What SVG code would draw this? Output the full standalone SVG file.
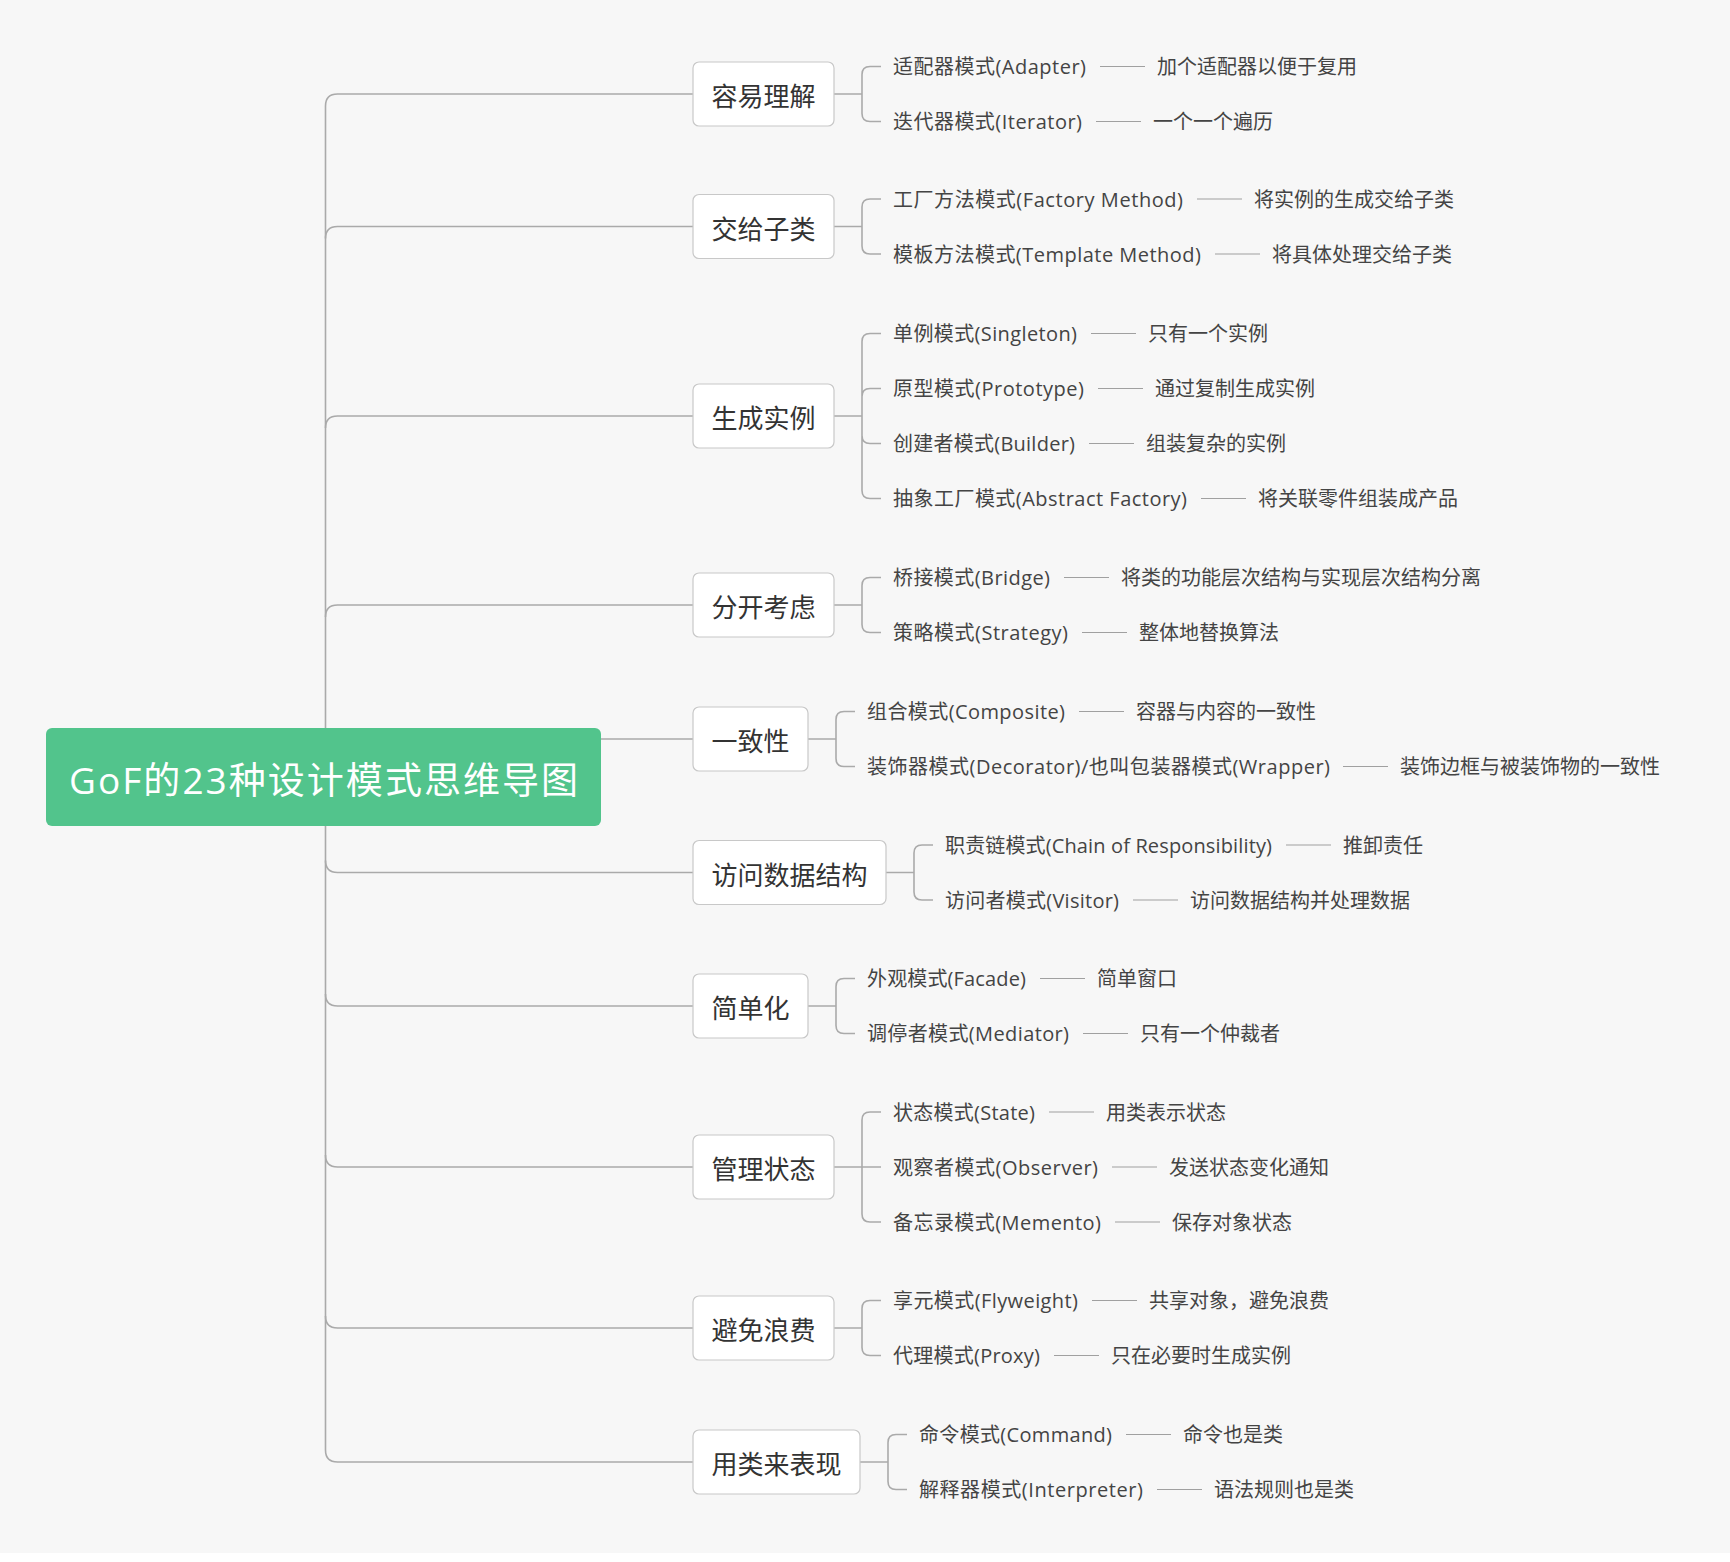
<svg xmlns="http://www.w3.org/2000/svg" width="1730" height="1562" viewBox="0 0 1730 1562">
<style>
.conn{fill:none;stroke:#aaaaaa;stroke-width:1.6}
.dash{fill:none;stroke:#a0a0a0;stroke-width:1.2}
.box{fill:#ffffff;stroke:#c8c8c8;stroke-width:1.2}
.lbl{font-family:"Open Sans","Noto Sans CJK SC",sans-serif;font-size:26px;fill:#333333;text-anchor:middle}
.leaf{font-family:"Open Sans","Noto Sans CJK SC",sans-serif;font-size:20px;fill:#444444}
.root{fill:#52c48c}
.rootlbl{font-family:"Open Sans","Noto Sans CJK SC",sans-serif;font-size:37px;fill:#ffffff;text-anchor:middle}
</style>
<rect x="0" y="0" width="1730" height="1562" fill="#ffffff"/>
<rect x="0" y="0" width="1730" height="1553" fill="#f7f7f7"/>
<g id="connectors">
<path class="conn" d="M693 94 H337.5 Q325.5 94 325.5 106 V1450 Q325.5 1462 337.5 1462 H693"/>
<path class="conn" d="M325.5 238.5 Q325.5 226.5 337.5 226.5 H693"/>
<path class="conn" d="M325.5 428 Q325.5 416 337.5 416 H693"/>
<path class="conn" d="M325.5 617 Q325.5 605 337.5 605 H693"/>
<path class="conn" d="M601 739 H693"/>
<path class="conn" d="M325.5 860.5 Q325.5 872.5 337.5 872.5 H693"/>
<path class="conn" d="M325.5 994 Q325.5 1006 337.5 1006 H693"/>
<path class="conn" d="M325.5 1155 Q325.5 1167 337.5 1167 H693"/>
<path class="conn" d="M325.5 1316 Q325.5 1328 337.5 1328 H693"/>
<path class="conn" d="M834 94 H862 M881 66.5 H870 Q862 66.5 862 74.5 V113.5 Q862 121.5 870 121.5 H881"/>
<path class="conn" d="M834 226.5 H862 M881 199 H870 Q862 199 862 207 V246 Q862 254 870 254 H881"/>
<path class="conn" d="M834 416 H862 M881 333.5 H870 Q862 333.5 862 341.5 V490.5 Q862 498.5 870 498.5 H881 M862 396.5 Q862 388.5 870 388.5 H881 M862 435.5 Q862 443.5 870 443.5 H881"/>
<path class="conn" d="M834 605 H862 M881 577.5 H870 Q862 577.5 862 585.5 V624.5 Q862 632.5 870 632.5 H881"/>
<path class="conn" d="M808 739 H836 M855 711.5 H844 Q836 711.5 836 719.5 V758.5 Q836 766.5 844 766.5 H855"/>
<path class="conn" d="M886 872.5 H914 M933 845 H922 Q914 845 914 853 V892 Q914 900 922 900 H933"/>
<path class="conn" d="M808 1006 H836 M855 978.5 H844 Q836 978.5 836 986.5 V1025.5 Q836 1033.5 844 1033.5 H855"/>
<path class="conn" d="M834 1167 H881 M881 1112 H870 Q862 1112 862 1120 V1214 Q862 1222 870 1222 H881"/>
<path class="conn" d="M834 1328 H862 M881 1300.5 H870 Q862 1300.5 862 1308.5 V1347.5 Q862 1355.5 870 1355.5 H881"/>
<path class="conn" d="M860 1462 H888 M907 1434.5 H896 Q888 1434.5 888 1442.5 V1481.5 Q888 1489.5 896 1489.5 H907"/>
<path class="dash" d="M1100 66.5 H1145 M1096 121.5 H1141 M1197 199 H1242 M1215 254 H1260 M1091 333.5 H1136 M1098 388.5 H1143 M1089 443.5 H1134 M1201 498.5 H1246 M1064 577.5 H1109 M1082 632.5 H1127 M1079 711.5 H1124 M1343 766.5 H1388 M1286 845 H1331 M1133 900 H1178 M1040 978.5 H1085 M1083 1033.5 H1128 M1049 1112 H1094 M1112 1167 H1157 M1115 1222 H1160 M1092 1300.5 H1137 M1054 1355.5 H1099 M1126 1434.5 H1171 M1157 1489.5 H1202"/>
</g>
<g id="root">
<rect class="root" x="46" y="728" width="555" height="98" rx="6"/>
<text class="rootlbl" x="323.5" y="794" textLength="509">GoF的23种设计模式思维导图</text>
</g>
<g id="b1">
<rect class="box" x="693" y="62" width="141" height="64" rx="6"/>
<text class="lbl" x="763.5" y="106">容易理解</text>
<text class="leaf" x="893" y="74" textLength="193">适配器模式(Adapter)</text>
<text class="leaf" x="1157" y="74">加个适配器以便于复用</text>
<text class="leaf" x="893" y="129" textLength="189">迭代器模式(Iterator)</text>
<text class="leaf" x="1153" y="129">一个一个遍历</text>
</g>
<g id="b2">
<rect class="box" x="693" y="194.5" width="141" height="64" rx="6"/>
<text class="lbl" x="763.5" y="238.5">交给子类</text>
<text class="leaf" x="893" y="206.5" textLength="290">工厂方法模式(Factory Method)</text>
<text class="leaf" x="1254" y="206.5">将实例的生成交给子类</text>
<text class="leaf" x="893" y="261.5" textLength="308">模板方法模式(Template Method)</text>
<text class="leaf" x="1272" y="261.5">将具体处理交给子类</text>
</g>
<g id="b3">
<rect class="box" x="693" y="384" width="141" height="64" rx="6"/>
<text class="lbl" x="763.5" y="428">生成实例</text>
<text class="leaf" x="893" y="341" textLength="184">单例模式(Singleton)</text>
<text class="leaf" x="1148" y="341">只有一个实例</text>
<text class="leaf" x="893" y="396" textLength="191">原型模式(Prototype)</text>
<text class="leaf" x="1155" y="396">通过复制生成实例</text>
<text class="leaf" x="893" y="451" textLength="182">创建者模式(Builder)</text>
<text class="leaf" x="1146" y="451">组装复杂的实例</text>
<text class="leaf" x="893" y="506" textLength="294">抽象工厂模式(Abstract Factory)</text>
<text class="leaf" x="1258" y="506">将关联零件组装成产品</text>
</g>
<g id="b4">
<rect class="box" x="693" y="573" width="141" height="64" rx="6"/>
<text class="lbl" x="763.5" y="617">分开考虑</text>
<text class="leaf" x="893" y="585" textLength="157">桥接模式(Bridge)</text>
<text class="leaf" x="1121" y="585">将类的功能层次结构与实现层次结构分离</text>
<text class="leaf" x="893" y="640" textLength="175">策略模式(Strategy)</text>
<text class="leaf" x="1139" y="640">整体地替换算法</text>
</g>
<g id="b5">
<rect class="box" x="693" y="707" width="115" height="64" rx="6"/>
<text class="lbl" x="750.5" y="751">一致性</text>
<text class="leaf" x="867" y="719" textLength="198">组合模式(Composite)</text>
<text class="leaf" x="1136" y="719">容器与内容的一致性</text>
<text class="leaf" x="867" y="774" textLength="463">装饰器模式(Decorator)/也叫包装器模式(Wrapper)</text>
<text class="leaf" x="1400" y="774">装饰边框与被装饰物的一致性</text>
</g>
<g id="b6">
<rect class="box" x="693" y="840.5" width="193" height="64" rx="6"/>
<text class="lbl" x="789.5" y="884.5">访问数据结构</text>
<text class="leaf" x="945" y="852.5" textLength="327">职责链模式(Chain of Responsibility)</text>
<text class="leaf" x="1343" y="852.5">推卸责任</text>
<text class="leaf" x="945" y="907.5" textLength="174">访问者模式(Visitor)</text>
<text class="leaf" x="1190" y="907.5">访问数据结构并处理数据</text>
</g>
<g id="b7">
<rect class="box" x="693" y="974" width="115" height="64" rx="6"/>
<text class="lbl" x="750.5" y="1018">简单化</text>
<text class="leaf" x="867" y="986" textLength="159">外观模式(Facade)</text>
<text class="leaf" x="1097" y="986">简单窗口</text>
<text class="leaf" x="867" y="1041" textLength="202">调停者模式(Mediator)</text>
<text class="leaf" x="1140" y="1041">只有一个仲裁者</text>
</g>
<g id="b8">
<rect class="box" x="693" y="1135" width="141" height="64" rx="6"/>
<text class="lbl" x="763.5" y="1179">管理状态</text>
<text class="leaf" x="893" y="1119.5" textLength="142">状态模式(State)</text>
<text class="leaf" x="1106" y="1119.5">用类表示状态</text>
<text class="leaf" x="893" y="1174.5" textLength="205">观察者模式(Observer)</text>
<text class="leaf" x="1169" y="1174.5">发送状态变化通知</text>
<text class="leaf" x="893" y="1229.5" textLength="208">备忘录模式(Memento)</text>
<text class="leaf" x="1172" y="1229.5">保存对象状态</text>
</g>
<g id="b9">
<rect class="box" x="693" y="1296" width="141" height="64" rx="6"/>
<text class="lbl" x="763.5" y="1340">避免浪费</text>
<text class="leaf" x="893" y="1308" textLength="185">享元模式(Flyweight)</text>
<text class="leaf" x="1149" y="1308">共享对象，避免浪费</text>
<text class="leaf" x="893" y="1363" textLength="147">代理模式(Proxy)</text>
<text class="leaf" x="1111" y="1363">只在必要时生成实例</text>
</g>
<g id="b10">
<rect class="box" x="693" y="1430" width="167" height="64" rx="6"/>
<text class="lbl" x="776.5" y="1474">用类来表现</text>
<text class="leaf" x="919" y="1442" textLength="193">命令模式(Command)</text>
<text class="leaf" x="1183" y="1442">命令也是类</text>
<text class="leaf" x="919" y="1497" textLength="224">解释器模式(Interpreter)</text>
<text class="leaf" x="1214" y="1497">语法规则也是类</text>
</g>
</svg>
